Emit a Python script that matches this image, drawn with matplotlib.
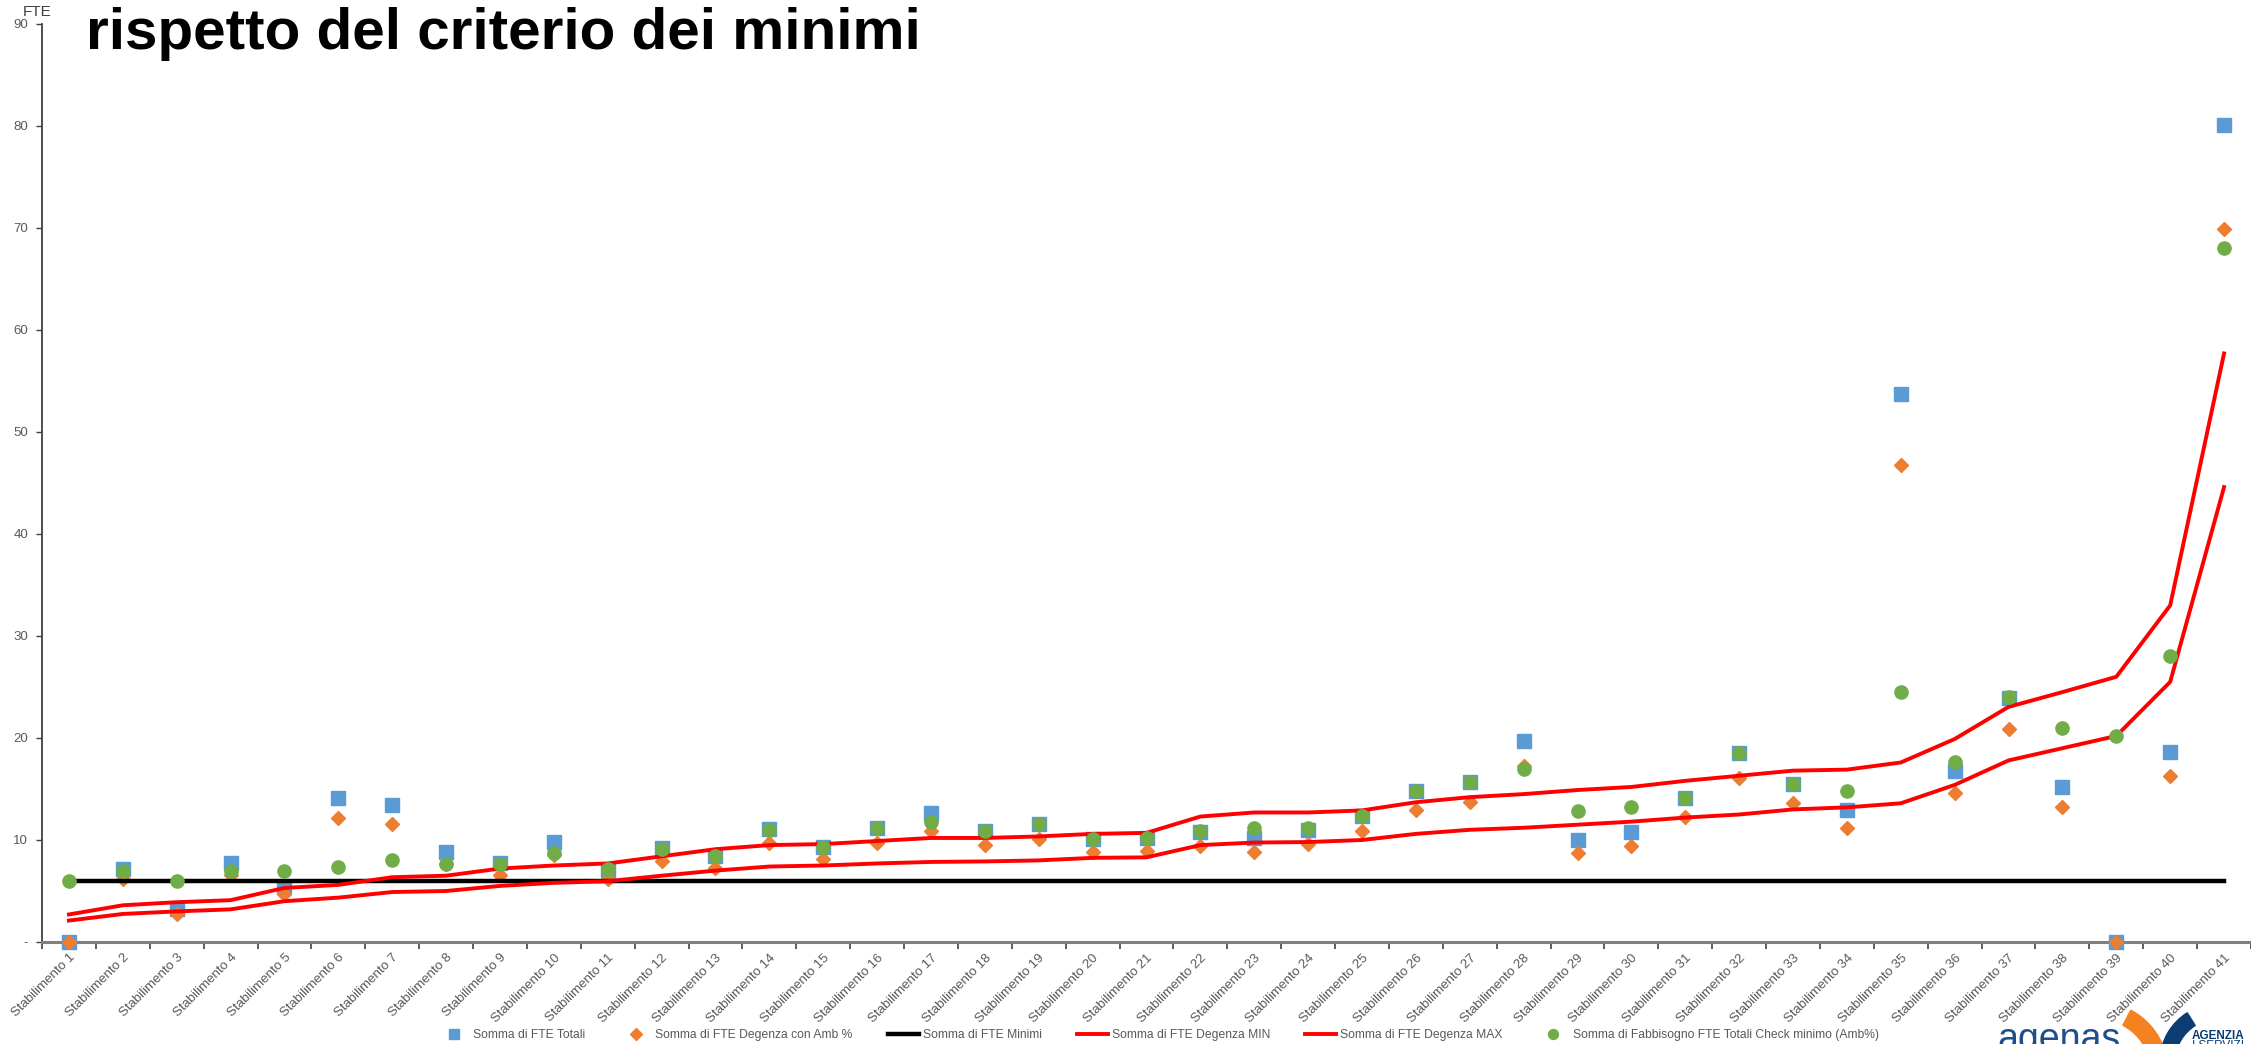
import matplotlib
matplotlib.use('Agg')
import matplotlib.pyplot as plt
from matplotlib.patches import Wedge
import numpy as np

plt.rcParams['font.family'] = ['Liberation Sans', 'DejaVu Sans']

stabilimenti = ['Stabilimento %d' % i for i in range(1, 42)]

fte_totali = [0.0, 7.2, 3.2, 7.7, 5.4, 14.1, 13.4, 8.8, 7.7, 9.8,
              7.1, 9.2, 8.4, 11.1, 9.3, 11.2, 12.6, 10.9, 11.6, 10.1,
              10.2, 10.8, 10.2, 11.0, 12.4, 14.8, 15.7, 19.7, 10.0, 10.75,
              14.1, 18.5, 15.5, 12.9, 53.7, 16.8, 23.95, 15.2, 0.0, 18.65,
              80.1]
fte_degenza_amb = [0.0, 6.2, 2.7, 6.6, 4.7, 12.2, 11.6, 7.6, 6.6, 8.5,
                   6.15, 7.9, 7.3, 9.7, 8.1, 9.7, 10.9, 9.5, 10.1, 8.8,
                   8.9, 9.4, 8.85, 9.6, 10.9, 12.9, 13.7, 17.3, 8.7, 9.4,
                   12.3, 16.1, 13.6, 11.2, 46.8, 14.6, 20.9, 13.2, 0.0, 16.25,
                   69.9]
fte_minimi = [6.0] * 41
fte_degenza_min = [2.1, 2.75, 3.0, 3.2, 4.0, 4.35, 4.9, 5.0, 5.5, 5.8,
                   5.96, 6.5, 7.0, 7.4, 7.5, 7.7, 7.85, 7.9, 8.0, 8.25,
                   8.3, 9.5, 9.75, 9.8, 10.0, 10.6, 11.0, 11.2, 11.5, 11.8,
                   12.2, 12.5, 13.0, 13.2, 13.6, 15.4, 17.8, 19.0, 20.2, 25.5,
                   44.6]
fte_degenza_max = [2.7, 3.6, 3.9, 4.1, 5.3, 5.6, 6.35, 6.5, 7.2, 7.5,
                   7.7, 8.4, 9.1, 9.5, 9.6, 9.9, 10.2, 10.2, 10.35, 10.6,
                   10.7, 12.3, 12.7, 12.7, 12.9, 13.7, 14.2, 14.5, 14.9, 15.2,
                   15.8, 16.3, 16.8, 16.9, 17.6, 19.9, 23.05, 24.5, 26.0, 33.0,
                   57.7]
fabbisogno_check = [6.0, 7.0, 6.0, 7.0, 7.0, 7.4, 8.05, 7.6, 7.6, 8.7,
                    7.2, 9.1, 8.4, 11.0, 9.3, 11.2, 11.8, 10.9, 11.6, 10.1,
                    10.2, 10.9, 11.2, 11.2, 12.4, 14.8, 15.7, 17.0, 12.8, 13.2,
                    14.1, 18.5, 15.5, 14.8, 24.5, 17.6, 24.0, 21.0, 20.2, 28.0,
                    68.0]

W, H = 2251, 1044
fig = plt.figure(figsize=(W / 100, H / 100), dpi=100)
ax = fig.add_axes([42 / W, 102 / H, (W - 42) / W, 918 / H])

x = np.arange(len(stabilimenti))
grey = '#595959'

ax.plot(x, fte_totali, ls='none', marker='s', ms=9.5, color='#5B9BD5',
        label='Somma di FTE Totali', zorder=3, clip_on=False)
ax.plot(x, fte_degenza_amb, ls='none', marker='D', ms=7.5, color='#ED7D31',
        label='Somma di FTE Degenza con Amb %', zorder=4, clip_on=False)
ax.plot(x, fte_minimi, color='black', lw=3.2,
        label='Somma di FTE Minimi', zorder=5)
ax.plot(x, fte_degenza_min, color='#FF0000', lw=2.8,
        label='Somma di FTE Degenza MIN', zorder=6)
ax.plot(x, fte_degenza_max, color='#FF0000', lw=2.8,
        label='Somma di FTE Degenza MAX', zorder=7)
ax.plot(x, fabbisogno_check, ls='none', marker='o', ms=9.5, color='#70AD47',
        label='Somma di Fabbisogno FTE Totali Check minimo (Amb%)', zorder=8,
        clip_on=False)

ax.set_xlim(-0.5, len(stabilimenti) - 0.5)
ax.set_ylim(0, 90)
ax.set_yticks(range(0, 91, 10))
ax.set_yticklabels(['-'] + [str(v) for v in range(10, 91, 10)])
ax.tick_params(axis='y', labelcolor=grey, labelsize=9.5, length=4, width=1,
               pad=6, color='#404040')

ax.set_xticks(x)
ax.set_xticklabels(stabilimenti, rotation=45, ha='right',
                   rotation_mode='anchor', color=grey, fontsize=9.5)
ax.tick_params(axis='x', length=0, pad=7)
ax.set_xticks(np.arange(-0.5, len(stabilimenti)), minor=True)
ax.tick_params(axis='x', which='minor', length=5, width=1.2, color='#404040')

for s in ['top', 'right']:
    ax.spines[s].set_visible(False)
ax.spines['bottom'].set_color('#808080')
ax.spines['bottom'].set_linewidth(2.2)
ax.spines['left'].set_color('#404040')
ax.spines['left'].set_linewidth(1.3)

fig.text(37 / W, 1 - 12 / H, 'FTE', ha='center', va='center',
         fontsize=11, color='#404040')
fig.text(86 / W, 1 - 49 / H, 'rispetto del criterio dei minimi',
         ha='left', va='baseline', fontsize=42, fontweight='bold',
         color='black')

fig.legend(loc='center', bbox_to_anchor=(0.5146, 1 - 1035 / H), ncol=6,
           frameon=False, fontsize=8.7, handlelength=2.6, handletextpad=0.3,
           columnspacing=2.9, labelcolor=grey, markerscale=0.75,
           borderpad=0, borderaxespad=0)

# logo agenas
lx = fig.add_axes([1990 / W, 0, 261 / W, 44 / H])
lx.set_xlim(1990, 2251)
lx.set_ylim(1044, 1000)
lx.axis('off')
lx.add_patch(Wedge((2098, 1072), 70, -62, -18, width=17, color='#F58220'))
lx.add_patch(Wedge((2218, 1062), 58, 183, 238, width=15, color='#0B3C73'))
fig.text(1997 / W, 1 - 1050 / H, 'agenas', fontsize=27, color='#1F4E8C',
         ha='left', va='baseline')
fig.text(2192 / W, 1 - 1039 / H, 'AGENZIA', fontsize=8.5,
         fontweight='bold', color='#0B3C73', ha='left', va='baseline')
fig.text(2192 / W, 1 - 1049 / H, 'I SERVIZI', fontsize=8.5,
         color='#0B3C73', ha='left', va='baseline')

fig.savefig('out.png', dpi=100)
